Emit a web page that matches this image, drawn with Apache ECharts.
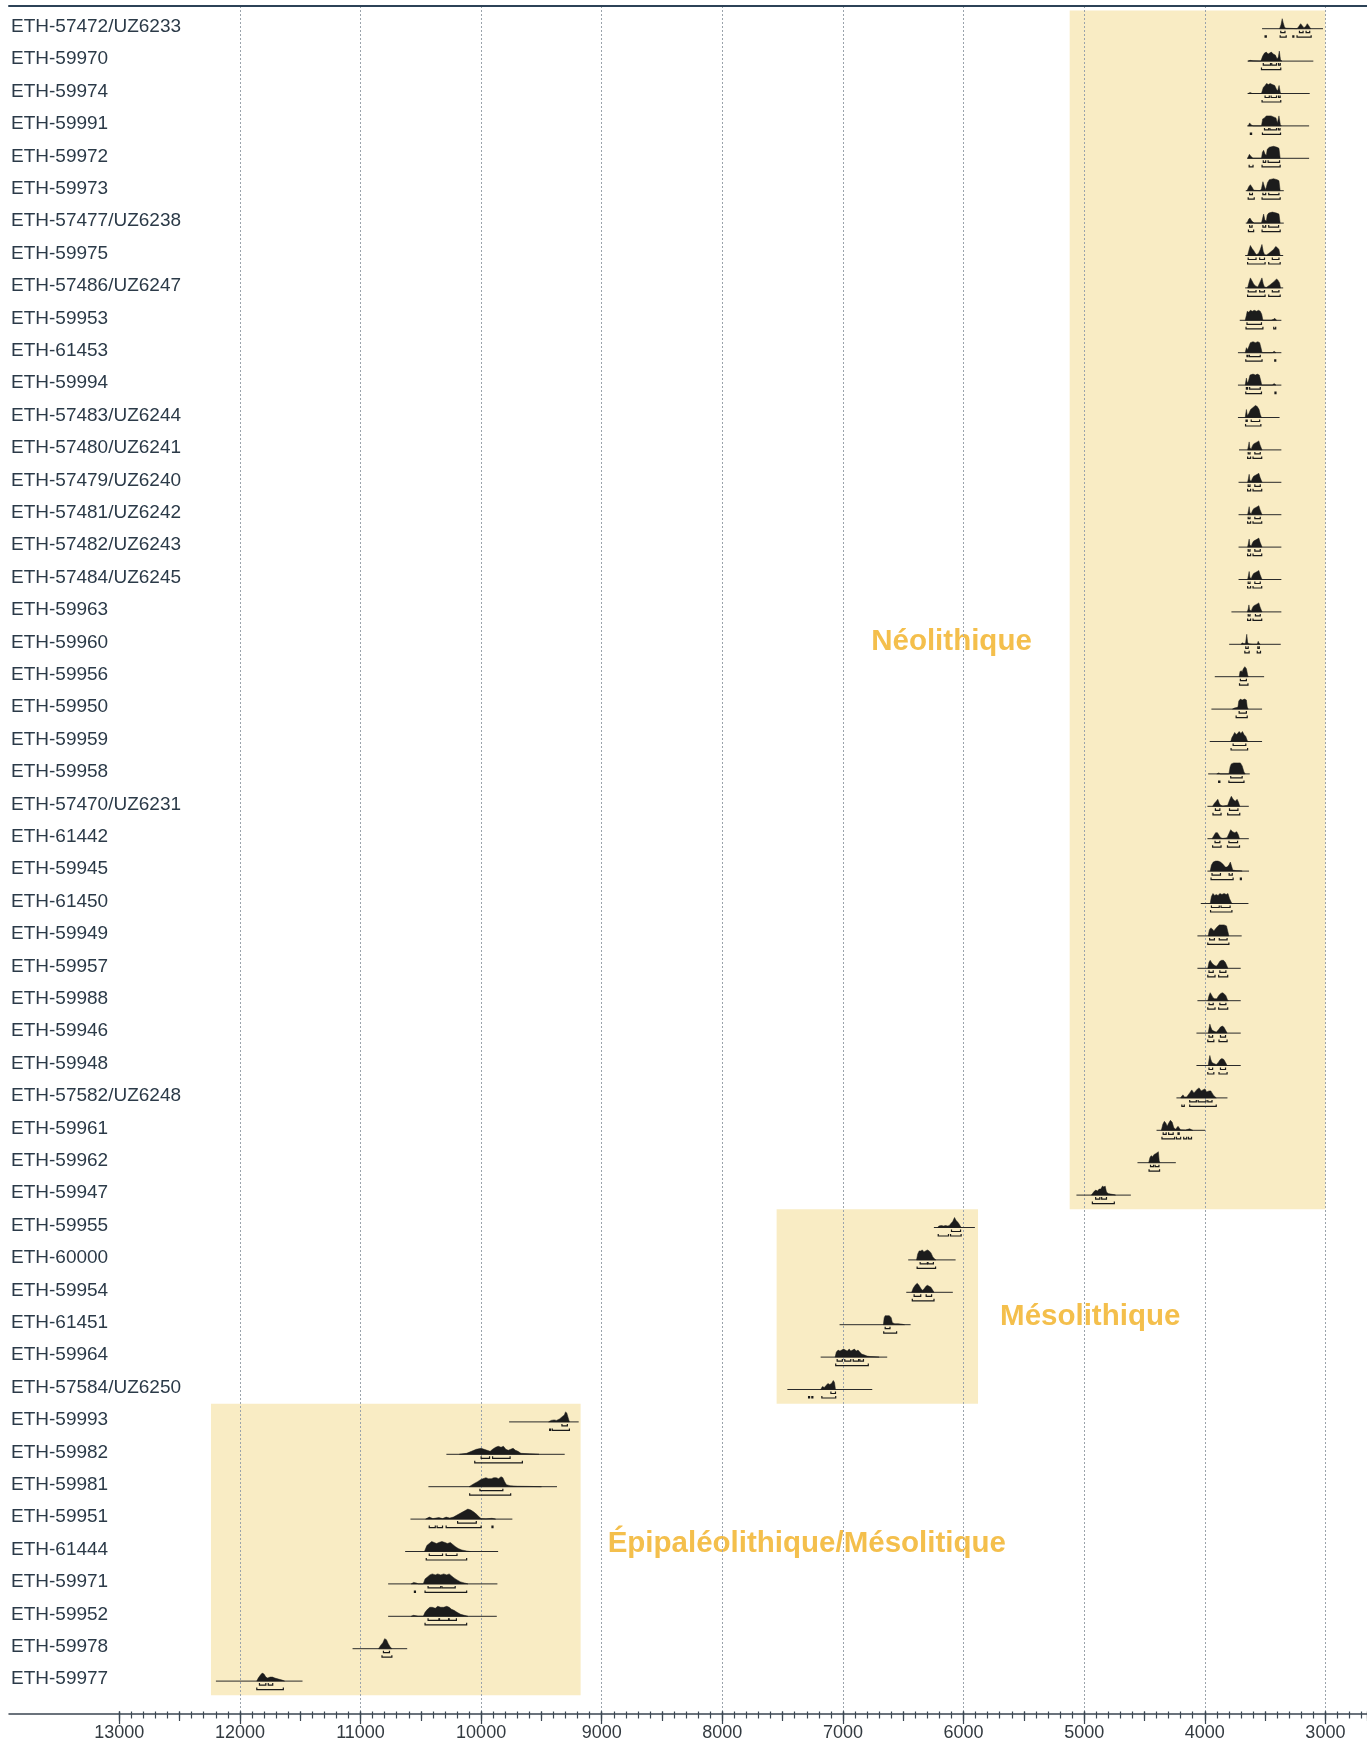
<!DOCTYPE html>
<html><head><meta charset="utf-8">
<script src="https://cdn.jsdelivr.net/npm/echarts@6/dist/echarts.min.js"></script>
<style>html,body{margin:0;padding:0;background:#fff}#c{width:1367px;height:1742px}</style>
</head><body><div id="c"></div>
<script>
const labels = ['ETH-57472/UZ6233','ETH-59970','ETH-59974','ETH-59991','ETH-59972','ETH-59973','ETH-57477/UZ6238','ETH-59975','ETH-57486/UZ6247','ETH-59953','ETH-61453','ETH-59994','ETH-57483/UZ6244','ETH-57480/UZ6241','ETH-57479/UZ6240','ETH-57481/UZ6242','ETH-57482/UZ6243','ETH-57484/UZ6245','ETH-59963','ETH-59960','ETH-59956','ETH-59950','ETH-59959','ETH-59958','ETH-57470/UZ6231','ETH-61442','ETH-59945','ETH-61450','ETH-59949','ETH-59957','ETH-59988','ETH-59946','ETH-59948','ETH-57582/UZ6248','ETH-59961','ETH-59962','ETH-59947','ETH-59955','ETH-60000','ETH-59954','ETH-61451','ETH-59964','ETH-57584/UZ6250','ETH-59993','ETH-59982','ETH-59981','ETH-59951','ETH-61444','ETH-59971','ETH-59952','ETH-59978','ETH-59977'];

// calibrated span drawn (years BC, older -> younger)
const spanFrom = [3525,3645,3645,3648,3648,3660,3660,3665,3665,3710,3725,3725,3725,3716,3720,3720,3720,3720,3779,3798,3917,3945,3959,3972,3978,3978,3978,4033,4061,4061,4061,4069,4069,4235,4400,4558,5064,6246,6459,6475,7028,7185,7461,9768,10288,10437,10586,10630,10771,10771,11066,12199];
const spanTo   = [3020,3100,3130,3135,3135,3345,3345,3350,3350,3365,3365,3365,3380,3365,3365,3365,3365,3365,3365,3370,3508,3525,3525,3627,3635,3635,3633,3638,3694,3702,3702,3702,3702,3812,3997,4240,4613,5906,6066,6089,6439,6633,6757,9191,9307,9371,9741,9859,9865,9870,10613,11481];

// probability density outlines [year, relative density]
const density = [
 [[3380,0],[3368,4],[3358,10],[3350,6],[3340,2],[3330,0.5],[3280,0.3],[3235,0],[3222,2],[3205,5],[3192,3],[3178,1],[3165,2],[3150,5],[3138,3],[3122,0]],
 [[3640,0],[3625,0.8],[3600,0.3],[3535,0],[3520,5],[3505,8],[3490,9],[3475,7],[3462,8],[3448,9],[3432,7],[3415,6],[3400,2],[3390,4],[3382,10],[3372,1],[3360,0]],
 [[3640,0],[3625,1],[3605,0],[3530,0],[3515,6],[3500,8],[3488,10],[3472,9],[3458,10],[3440,9],[3420,8],[3405,4],[3395,3],[3384,8],[3374,1],[3365,0]],
 [[3640,0],[3628,3],[3615,1],[3600,0],[3530,0],[3520,7],[3505,8],[3490,10],[3470,10],[3450,10],[3430,9],[3410,8],[3398,3],[3385,10],[3373,1],[3365,0]],
 [[3645,0],[3630,4],[3618,2],[3600,0],[3530,0],[3522,6],[3512,8],[3500,4],[3490,3],[3482,9],[3465,11],[3430,12],[3400,11],[3385,10],[3375,0]],
 [[3650,0],[3635,4],[3622,6],[3605,3],[3594,0.5],[3540,0],[3530,2],[3518,9],[3505,4],[3495,1],[3480,8],[3465,11],[3430,12],[3400,11],[3385,10],[3375,0]],
 [[3650,0],[3635,4],[3625,5],[3610,2],[3590,0],[3530,0],[3520,5],[3512,9],[3502,3],[3490,2],[3482,8],[3470,10],[3440,11],[3405,10],[3385,9],[3375,0]],
 [[3645,0],[3632,6],[3622,10],[3608,7],[3595,5],[3580,2],[3570,1],[3555,2],[3540,6],[3526,11],[3515,4],[3505,1],[3490,0.5],[3470,2],[3450,4],[3430,6],[3412,9],[3400,8],[3385,6],[3375,0]],
 [[3645,0],[3632,6],[3622,10],[3608,7],[3595,4],[3580,2],[3560,1],[3545,5],[3526,10],[3515,4],[3505,1],[3490,0.5],[3460,3],[3440,5],[3420,7],[3405,9],[3395,8],[3380,5],[3372,0]],
 [[3665,0],[3655,5],[3648,9],[3635,8],[3622,10],[3605,9],[3590,10],[3570,9],[3555,10],[3540,9],[3528,6],[3518,0],[3450,0],[3430,1],[3420,2],[3405,0]],
 [[3665,0],[3655,5],[3645,3],[3635,6],[3622,10],[3600,11],[3580,10],[3560,11],[3545,10],[3532,4],[3525,0],[3440,0],[3425,1.5],[3410,0]],
 [[3665,0],[3655,7],[3648,2],[3638,4],[3625,10],[3600,11],[3580,10],[3565,11],[3548,10],[3535,4],[3528,0],[3440,0],[3425,1.5],[3410,0]],
 [[3665,0],[3655,8],[3647,2],[3635,4],[3620,8],[3600,10],[3580,12],[3565,11],[3550,8],[3540,3],[3530,0]],
 [[3645,0],[3638,4],[3632,8],[3626,2],[3615,1],[3605,4],[3595,6],[3580,7],[3565,8],[3552,9],[3542,5],[3532,2],[3525,0]],
 [[3645,0],[3638,4],[3632,8],[3626,2],[3615,1],[3605,4],[3595,6],[3580,7],[3565,8],[3552,9],[3542,5],[3532,2],[3525,0]],
 [[3645,0],[3638,4],[3632,8],[3626,2],[3615,1],[3605,4],[3595,6],[3580,7],[3565,8],[3552,9],[3542,5],[3532,2],[3525,0]],
 [[3645,0],[3638,4],[3632,8],[3626,2],[3615,1],[3605,4],[3595,6],[3580,7],[3565,8],[3552,9],[3542,5],[3532,2],[3525,0]],
 [[3645,0],[3638,4],[3632,8],[3626,2],[3615,1],[3605,4],[3595,6],[3580,7],[3565,8],[3552,9],[3542,5],[3532,2],[3525,0]],
 [[3648,0],[3640,3],[3634,7],[3628,2],[3615,1],[3605,4],[3595,6],[3580,7],[3565,8],[3552,9],[3542,5],[3532,2],[3525,0]],
 [[3700,0],[3688,1.5],[3675,0.5],[3662,1],[3652,10],[3645,2],[3635,0.5],[3600,0],[3565,0],[3557,3],[3550,1],[3540,0]],
 [[3715,0],[3708,5],[3700,6],[3690,5],[3680,8],[3668,10],[3655,8],[3645,2],[3640,0]],
 [[3770,0],[3755,1],[3738,1.5],[3725,2],[3718,8],[3705,10],[3690,9],[3670,10],[3655,9],[3648,2],[3640,0]],
 [[3785,0],[3775,4],[3765,6],[3752,9],[3740,7],[3728,8],[3715,10],[3700,8],[3688,10],[3675,7],[3660,5],[3648,1],[3640,0]],
 [[3900,0],[3885,1],[3870,0],[3800,0],[3790,7],[3780,10],[3760,11],[3730,11],[3705,11],[3690,8],[3675,2],[3665,0]],
 [[3935,0],[3920,3],[3905,5],[3892,7],[3880,3],[3868,1],[3850,0.3],[3810,1],[3795,6],[3780,10],[3765,7],[3748,5],[3732,7],[3720,4],[3710,0]],
 [[3940,0],[3925,3],[3910,6],[3895,6],[3880,3],[3868,1],[3850,0.3],[3815,1],[3800,5],[3785,9],[3770,7],[3752,6],[3735,7],[3722,4],[3712,0]],
 [[3955,0],[3945,6],[3930,9],[3910,10],[3890,10],[3870,9],[3850,7],[3830,4],[3815,4],[3800,6],[3788,9],[3778,5],[3768,1],[3740,0.5],[3700,0.3],[3690,0]],
 [[3955,0],[3945,7],[3932,10],[3918,8],[3905,9],[3890,8],[3875,10],[3858,9],[3840,10],[3822,9],[3808,10],[3795,5],[3780,1],[3770,0]],
 [[3972,0],[3962,6],[3950,8],[3938,7],[3925,5],[3912,7],[3898,9],[3880,11],[3860,11],[3840,11],[3820,10],[3808,4],[3800,0]],
 [[3975,0],[3965,6],[3955,8],[3945,6],[3932,4],[3920,3],[3905,2],[3890,4],[3875,7],[3860,8],[3845,8],[3830,6],[3815,2],[3808,0]],
 [[3975,0],[3965,5],[3955,8],[3945,6],[3932,3],[3918,2],[3900,2],[3885,5],[3870,7],[3855,8],[3840,7],[3825,5],[3812,1],[3805,0]],
 [[3972,0],[3964,5],[3958,9],[3950,6],[3940,3],[3925,2],[3905,1],[3888,3],[3870,6],[3855,7],[3842,6],[3828,3],[3815,0]],
 [[3972,0],[3964,6],[3958,10],[3950,6],[3940,3],[3925,2],[3905,1],[3888,3],[3872,6],[3858,7],[3842,6],[3828,3],[3815,0]],
 [[4200,0],[4190,2],[4180,3],[4170,1],[4150,1],[4125,5],[4108,8],[4090,5],[4075,7],[4060,9],[4047,10],[4030,7],[4015,8],[3998,9],[3985,6],[3965,7],[3950,7],[3930,3],[3905,0]],
 [[4360,0],[4348,6],[4335,9],[4322,7],[4312,4],[4300,7],[4285,10],[4270,8],[4258,3],[4245,1],[4235,2],[4222,4],[4210,2],[4200,0.5],[4160,0.3],[4140,1],[4125,1.5],[4110,0.5],[4100,0]],
 [[4465,0],[4455,5],[4445,7],[4432,6],[4422,8],[4408,9],[4395,10],[4385,11],[4378,2],[4372,0]],
 [[4940,0],[4928,2],[4915,4],[4903,5],[4890,4],[4876,6],[4862,6],[4848,9],[4836,8],[4826,9],[4815,3],[4800,1.5],[4780,1],[4755,0.5],[4740,0]],
 [[6215,0],[6205,1.5],[6185,2],[6165,1.5],[6150,2],[6130,1.5],[6118,2],[6105,4],[6090,6],[6075,10],[6062,7],[6045,5],[6030,2],[6020,0]],
 [[6390,0],[6380,6],[6368,9],[6355,9],[6342,10],[6328,8],[6315,9],[6300,10],[6285,9],[6270,7],[6255,3],[6240,1],[6230,0]],
 [[6430,0],[6418,4],[6402,7],[6384,9],[6370,7],[6355,4],[6342,2],[6330,3],[6312,6],[6300,7],[6285,6],[6270,5],[6255,2],[6245,0]],
 [[6665,0],[6658,7],[6650,9],[6635,9],[6615,9],[6600,7],[6590,2],[6570,1],[6540,1],[6510,0.5],[6490,0]],
 [[7065,0],[7055,5],[7040,7],[7025,6],[7010,7],[6995,8],[6980,7],[6965,6],[6948,8],[6935,6],[6920,7],[6905,8],[6890,6],[6875,7],[6860,5],[6845,3],[6820,2],[6800,1],[6770,0.5],[6700,0]],
 [[7185,0],[7170,3],[7155,2],[7140,4],[7125,6],[7110,5],[7095,6],[7080,9],[7070,7],[7062,0]],
 [[9440,0],[9420,1.5],[9395,2],[9375,1.5],[9350,3],[9330,5],[9310,7],[9300,10],[9290,9],[9278,4],[9268,0]],
 [[10180,0],[10120,1],[10080,3],[10040,5],[10000,6],[9975,5],[9950,4],[9925,3],[9905,5],[9880,7],[9858,8],[9835,7],[9815,8],[9795,5],[9775,4],[9755,5],[9735,6],[9715,4],[9695,3],[9670,1],[9600,0.5],[9550,0.3],[9520,0]],
 [[10100,0],[10060,3],[10030,5],[10005,7],[9985,8],[9960,9],[9940,8],[9915,8],[9895,9],[9875,9],[9855,8],[9835,10],[9820,9],[9805,5],[9790,2],[9760,1],[9700,0.5],[9600,0.3],[9500,0]],
 [[10460,0],[10430,2],[10400,0.5],[10350,1.5],[10320,0.5],[10290,2],[10260,1],[10230,2],[10200,4],[10170,6],[10140,8],[10110,10],[10085,9],[10060,7],[10040,5],[10015,2],[10000,0.5],[9960,0.3],[9910,0.8],[9880,0]],
 [[10470,0],[10450,6],[10430,8],[10410,10],[10390,9],[10370,8],[10350,9],[10325,10],[10300,9],[10280,8],[10255,9],[10235,7],[10215,5],[10190,3],[10160,1.5],[10120,0.5],[10090,0]],
 [[10580,0],[10560,1.5],[10540,1],[10520,0],[10480,0],[10465,5],[10445,7],[10425,9],[10405,10],[10380,9],[10360,10],[10335,9],[10310,10],[10285,9],[10265,10],[10245,8],[10225,6],[10200,4],[10170,2],[10140,1],[10110,0]],
 [[10580,0],[10560,1],[10540,0.5],[10520,0],[10480,0],[10465,4],[10445,7],[10425,9],[10405,9],[10380,8],[10360,10],[10335,9],[10310,9],[10285,10],[10265,9],[10245,7],[10225,6],[10200,4],[10170,2],[10140,1],[10110,0]],
 [[10850,0],[10835,3],[10815,6],[10800,10],[10785,9],[10770,5],[10755,2],[10740,0]],
 [[11860,0],[11848,3],[11830,6],[11815,8],[11800,7],[11785,4],[11770,3],[11750,4],[11730,4],[11710,3],[11680,2],[11650,1],[11630,0]]
];

// 68.2% ranges
const range68 = [
 [[3370,3335],[3215,3185],[3160,3130]],[[3515,3455],[3445,3405],[3388,3374]],[[3500,3465],[3450,3405],[3388,3375]],[[3505,3470],[3460,3405],[3390,3376]],
 [[3515,3495],[3475,3380]],[[3628,3605],[3518,3495],[3470,3385]],[[3628,3608],[3518,3495],[3470,3388]],[[3640,3575],[3545,3505],[3440,3385]],
 [[3640,3575],[3545,3505],[3440,3385]],[[3650,3530]],[[3650,3645],[3630,3540]],[[3655,3645],[3628,3540]],
 [[3658,3648],[3615,3545]],[[3640,3625],[3585,3540]],[[3640,3625],[3585,3540]],[[3640,3625],[3585,3540]],
 [[3640,3625],[3585,3540]],[[3640,3625],[3585,3540]],[[3640,3625],[3580,3540]],[[3660,3640],[3560,3548]],
 [[3705,3655]],[[3715,3655]],[[3765,3660]],[[3785,3690]],
 [[3912,3875],[3795,3725]],[[3915,3875],[3800,3728]],[[3940,3870],[3798,3772]],[[3945,3880],[3865,3790]],
 [[3960,3920],[3880,3815]],[[3965,3930],[3875,3825]],[[3965,3930],[3875,3825]],[[3965,3935],[3870,3828]],
 [[3965,3935],[3870,3828]],[[4125,4070],[4055,3990],[3975,3940]],[[4345,4320],[4300,4262],[4222,4212]],[[4450,4425],[4412,4380]],
 [[4905,4870],[4855,4815]],[[6100,6025]],[[6360,6300],[6295,6250]],[[6410,6355],[6310,6265]],
 [[6650,6610]],[[7048,7005],[6985,6935],[6915,6870],[6860,6830]],[[7100,7062]],[[9330,9285]],
 [[10000,9930],[9905,9760]],[[10010,9820]],[[10195,10040]],[[10430,10320],[10290,10200]],
 [[10440,10335],[10325,10215]],[[10440,10350],[10345,10270],[10265,10205]],[[10810,10760]],[[11838,11785],[11765,11728]]
];

// 95.4% ranges
const range95 = [
 [[3500,3490],[3375,3325],[3270,3262],[3235,3118]],[[3530,3370]],[[3525,3370]],[[3622,3612],[3522,3372]],
 [[3632,3600],[3525,3375]],[[3640,3590],[3525,3375]],[[3638,3595],[3525,3375]],[[3645,3500],[3470,3375]],
 [[3645,3500],[3470,3375]],[[3658,3518],[3428,3412]],[[3660,3525],[3420,3412]],[[3660,3530],[3418,3410]],
 [[3662,3535]],[[3645,3620],[3600,3528]],[[3645,3620],[3600,3528]],[[3645,3620],[3600,3528]],
 [[3645,3620],[3600,3528]],[[3645,3620],[3600,3528]],[[3645,3620],[3600,3528]],[[3668,3632],[3565,3538]],
 [[3712,3642]],[[3740,3648]],[[3782,3645]],[[3885,3875],[3800,3675]],
 [[3932,3865],[3810,3710]],[[3935,3865],[3812,3712]],[[3948,3765],[3705,3698]],[[3952,3775]],
 [[3975,3800]],[[3975,3915],[3885,3810]],[[3975,3915],[3885,3810]],[[3975,3925],[3882,3815]],
 [[3975,3925],[3882,3815]],[[4190,4170],[4125,3905]],[[4355,4250],[4235,4200],[4175,4150],[4135,4110]],[[4462,4375]],
 [[4932,4750]],[[6210,6125],[6108,6020]],[[6385,6232]],[[6425,6245]],
 [[6662,6555]],[[7060,6790]],[[7285,7278],[7258,7250],[7175,7060]],[[9432,9425],[9410,9268]],
 [[10053,9658]],[[10095,9755]],[[10430,10380],[10365,10320],[10290,10000],[9910,9902]],[[10455,10120]],
 [[10553,10545],[10465,10120]],[[10465,10120]],[[10822,10740]],[[11860,11640]]
];

// cultural periods
const periodNames = ['Néolithique','Mésolithique','Épipaléolithique/Mésolitique'];
const periodStart = [5120, 7550, 12240];
const periodEnd   = [3000, 5880, 9175];
const periodFirstRow = [0, 37, 43];
const periodLastRow  = [36, 42, 51];

// label anchors (layout): [year, row, vertical shift in row bands]
const periodLabelAnchor = [[6100, 19, 0], [4950, 40, -0.17], [7300, 47, -0.17]];

const FONT = '"Liberation Sans", Arial, Helvetica, sans-serif';
const XMIN = -13000, XMAX = -2655;

const chart = echarts.init(document.getElementById('c'), null, {renderer: 'canvas'});

function tickAxis(interval, len, withLabels) {
  return {
    gridIndex: 1, type: 'value', position: 'bottom', offset: 0,
    min: XMIN, max: XMAX, interval: interval,
    axisLine: {show: false},
    axisTick: {show: true, length: len, lineStyle: {color: '#3b4652', width: 1.2}},
    axisLabel: withLabels ? {
      show: true, margin: 12.5, fontSize: 18, color: '#333a40', fontFamily: FONT,
      showMaxLabel: false,
      formatter: v => (v % 1000 === 0 ? String(Math.abs(v)) : '')
    } : {show: false},
    splitLine: withLabels ? {show: true, showMinLine: false, showMaxLine: false,
      lineStyle: {color: '#9aa3ab', width: 1, type: [2, 2]}} : {show: false}
  };
}

const option = {
  animation: false,
  backgroundColor: '#ffffff',
  textStyle: {fontFamily: FONT},
  grid: [
    {left: 9, right: 0, top: 6, bottom: 28},
    {left: 119.3, right: 0, top: 6, bottom: 28},
    {left: 119.3, right: 0, top: 10.5, height: 1684.8}
  ],
  xAxis: [
    {gridIndex: 0, type: 'value', position: 'bottom', min: 0, max: 1,
     axisLine: {show: true, lineStyle: {color: '#3b4652', width: 1.5}},
     axisTick: {show: false}, axisLabel: {show: false}, splitLine: {show: false}},
    {gridIndex: 0, type: 'value', position: 'top', min: 0, max: 1,
     axisLine: {show: true, lineStyle: {color: '#2c4257', width: 2}},
     axisTick: {show: false}, axisLabel: {show: false}, splitLine: {show: false}},
    tickAxis(1000, 12.5, true),
    tickAxis(500, 9.5, false),
    tickAxis(100, 7, false),
    {gridIndex: 2, type: 'value', min: XMIN, max: XMAX, show: false}
  ],
  yAxis: [
    {gridIndex: 0, type: 'value', show: false},
    {gridIndex: 1, type: 'value', show: false},
    {gridIndex: 2, type: 'category', inverse: true, data: labels,
     axisLine: {show: false}, axisTick: {show: false}, splitLine: {show: false},
     axisLabel: {show: true, interval: 0, align: 'left', margin: 108.3,
       fontSize: 19, color: '#2b3a48', fontFamily: FONT}}
  ],
  series: [
    {
      type: 'custom', name: 'periods', xAxisIndex: 5, yAxisIndex: 2, z: -1,
      silent: true, clip: false,
      data: periodNames.map((n, i) => [-periodStart[i], periodFirstRow[i]]),
      renderItem: function (params, api) {
        const i = params.dataIndex;
        const band = api.size([0, 1])[1];
        const a = api.coord([-periodStart[i], periodFirstRow[i]]);
        const b = api.coord([-periodEnd[i], periodLastRow[i]]);
        const anc = periodLabelAnchor[i];
        const la = api.coord([-anc[0], anc[1]]);
        return {
          type: 'group',
          children: [
            {type: 'rect', shape: {x: a[0], y: a[1] - band / 2, width: b[0] - a[0], height: (b[1] + band / 2) - (a[1] - band / 2)},
             style: {fill: '#f9ecc4'}, z2: 0},
            {type: 'text', x: la[0], y: la[1] + anc[2] * band, z2: 5,
             style: {text: periodNames[i], fill: '#f4bf4c', font: 'bold 29.5px ' + FONT, align: 'center', verticalAlign: 'middle'}}
          ]
        };
      }
    },
    {
      type: 'custom', name: 'dates', xAxisIndex: 5, yAxisIndex: 2, z: 3,
      silent: true, clip: false,
      data: labels.map((l, i) => [-spanFrom[i], i]),
      encode: {x: 0, y: 1},
      renderItem: function (params, api) {
        const i = params.dataIndex;
        const X = yr => api.coord([-yr, i])[0];
        const base = api.coord([-spanFrom[i], i])[1] + 2;
        const kids = [];
        kids.push({type: 'line', shape: {x1: X(spanFrom[i]), y1: base, x2: X(spanTo[i]), y2: base},
          style: {stroke: '#2a2a2a', lineWidth: 1}});
        const pts = density[i].map(p => [X(p[0]), base - p[1]]);
        pts.unshift([X(density[i][0][0]), base]);
        pts.push([X(density[i][density[i].length - 1][0]), base]);
        kids.push({type: 'polygon', shape: {points: pts}, style: {fill: '#1c1c1c', stroke: '#1c1c1c', lineWidth: 0.5}});
        const bracket = (r, yy) => {
          const x1 = X(r[0]), x2 = Math.max(X(r[1]), x1 + 1);
          return {type: 'polyline', shape: {points: [[x1, yy - 2], [x1, yy], [x2, yy], [x2, yy - 2]]},
            style: {stroke: '#1a1a1a', lineWidth: 1.2, fill: null}};
        };
        range68[i].forEach(r => kids.push(bracket(r, base + 4)));
        range95[i].forEach(r => kids.push(bracket(r, base + 8.5)));
        return {type: 'group', children: kids};
      }
    }
  ]
};
chart.setOption(option);
</script>
</body></html>
